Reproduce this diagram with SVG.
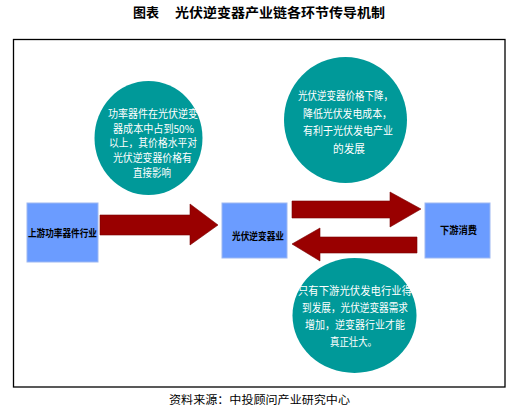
<svg xmlns="http://www.w3.org/2000/svg" width="523" height="419" viewBox="0 0 523 419">
<style>
.cjk{font-family:"Noto Sans CJK SC","Noto Sans",sans-serif}
.title{font-size:13px;font-weight:bold;fill:#000}
.src{font-size:11.5px;fill:#000}
.ctext{font-size:11.5px;fill:#fff;text-anchor:middle}
.small{font-size:11px}
.btext{font-size:10.5px;fill:#000;font-weight:bold;text-anchor:middle}
.circle{fill:#009999}
.box{fill:#6b9cff;stroke:#9db8f2;stroke-width:1}
.arrow{fill:#990000;stroke:#7a0000;stroke-width:0.6}
</style>
<rect width="523" height="419" fill="#fff"/>
<text class="cjk title" x="133" y="17">图表</text>
<text class="cjk title" x="175" y="17" textLength="210" lengthAdjust="spacingAndGlyphs">光伏逆变器产业链各环节传导机制</text>
<rect x="13.5" y="39.5" width="491.5" height="347.5" fill="none" stroke="#000" stroke-width="1.3"/>

<g id="connectors">
<polygon class="arrow" points="100,215 190,215 190,204 218,225 190,245 190,235 100,235"/>
<polygon class="arrow" points="292,201 390,201 390,192 421,209 390,227 390,218 292,218"/>
<polygon class="arrow" points="417,237 320,237 320,228 292,244 320,261 320,253 417,253"/>
</g>

<g id="node-upstream">
<rect class="box" x="27" y="203" width="71" height="59"/>
<text class="cjk btext" x="62.5" y="237" textLength="69" lengthAdjust="spacingAndGlyphs">上游功率器件行业</text>
</g>
<g id="node-inverter">
<rect class="box" x="222" y="203" width="65" height="55"/>
<text class="cjk btext" x="258" y="240" textLength="52" lengthAdjust="spacingAndGlyphs">光伏逆变器业</text>
</g>
<g id="node-downstream">
<rect class="box" x="425" y="203" width="65" height="55"/>
<text class="cjk btext" x="458.5" y="234" textLength="37" lengthAdjust="spacingAndGlyphs">下游消费</text>
</g>

<g id="note-power">
<ellipse class="circle" cx="148.5" cy="138" rx="54" ry="57"/>
<text class="cjk ctext small" x="153" y="117.5" textLength="90" lengthAdjust="spacingAndGlyphs">功率器件在光伏逆变</text>
<text class="cjk ctext small" x="153.5" y="132.5" textLength="81" lengthAdjust="spacingAndGlyphs">器成本中占到50%</text>
<text class="cjk ctext small" x="153" y="147" textLength="88" lengthAdjust="spacingAndGlyphs">以上，其价格水平对</text>
<text class="cjk ctext small" x="152.5" y="161.5" textLength="79" lengthAdjust="spacingAndGlyphs">光伏逆变器价格有</text>
<text class="cjk ctext small" x="152" y="176.5" textLength="38" lengthAdjust="spacingAndGlyphs">直接影响</text>
</g>

<g id="note-cost">
<ellipse class="circle" cx="345.5" cy="120" rx="61.5" ry="63"/>
<text class="cjk ctext" x="345.5" y="100" textLength="95" lengthAdjust="spacingAndGlyphs">光伏逆变器价格下降，</text>
<text class="cjk ctext" x="347.5" y="117.5" textLength="89" lengthAdjust="spacingAndGlyphs">降低光伏发电成本，</text>
<text class="cjk ctext" x="348" y="135" textLength="90" lengthAdjust="spacingAndGlyphs">有利于光伏发电产业</text>
<text class="cjk ctext" x="349" y="152.5" textLength="32" lengthAdjust="spacingAndGlyphs">的发展</text>
</g>

<g id="note-demand">
<ellipse class="circle" cx="354.5" cy="315.5" rx="62" ry="57.5"/>
<text class="cjk ctext" x="355" y="294.5" textLength="114" lengthAdjust="spacingAndGlyphs">只有下游光伏发电行业得</text>
<text class="cjk ctext" x="355" y="311.5" textLength="106" lengthAdjust="spacingAndGlyphs">到发展，光伏逆变器需求</text>
<text class="cjk ctext" x="355" y="328.5" textLength="100" lengthAdjust="spacingAndGlyphs">增加，逆变器行业才能</text>
<text class="cjk ctext" x="353.5" y="345.5" textLength="47" lengthAdjust="spacingAndGlyphs">真正壮大。</text>
</g>

<text class="cjk src" x="169" y="404" textLength="181" lengthAdjust="spacingAndGlyphs">资料来源：中投顾问产业研究中心</text>
</svg>
